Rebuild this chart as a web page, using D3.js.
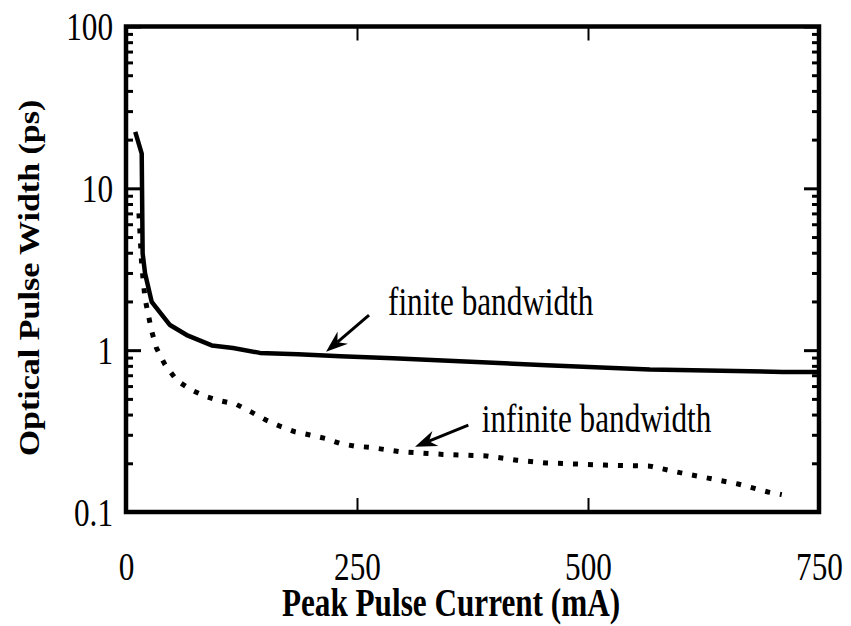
<!DOCTYPE html>
<html>
<head>
<meta charset="utf-8">
<script src="https://cdn.jsdelivr.net/npm/d3@7"></script>
<style>
	body { margin: 0; background: #fff; }
	svg { display: block; }
	text { font-family: "Times New Roman", "Liberation Serif", serif; fill: #000; }
</style>
</head>
<body>
<div id="chart"></div>
<script>
// Values
var finiteCurrent = [10, 17, 18, 20.6, 27.8, 47.6, 65.7, 92.8, 115.8, 145, 186, 232, 289, 361, 455, 567, 711, 750];
var finiteWidth = [22.3, 16.4, 3.97, 2.99, 1.99, 1.43, 1.24, 1.07, 1.03, 0.962, 0.945, 0.918, 0.892, 0.855, 0.808, 0.76, 0.734, 0.734];

var infiniteCurrent = [14, 17, 20.6, 27.8, 33, 42.2, 55.5, 71.1, 87.3, 103.6, 119, 135.8, 151.5, 166.7, 182.9, 199.1, 215.4, 231.6, 247.8, 264, 295.7, 342.8, 390.4, 422.9, 454.6, 518.4, 567.1, 599.6, 629.9, 662.4, 694.8, 709.7];
var infiniteWidth = [7.0, 3.35, 2.08, 1.31, 1.03, 0.813, 0.646, 0.566, 0.515, 0.484, 0.464, 0.414, 0.37, 0.339, 0.313, 0.299, 0.285, 0.265, 0.255, 0.251, 0.236, 0.227, 0.222, 0.209, 0.201, 0.195, 0.192, 0.175, 0.162, 0.149, 0.133, 0.128];

var xTicks = [0, 250, 500, 750];
var yTicks = [0.1, 1, 10, 100];
var yTickLabels = ['0.1', '1', '10', '100'];

var labels = ['finite bandwidth', 'infinite bandwidth'];
// arrow tail, arrow tip, label anchor (data units)
var arrowFrom = [[263, 1.645], [370.5, 0.344]];
var arrowTo = [[216.5, 0.976], [312.8, 0.253]];
var labelAt = [[283.6, 1.645], [385, 0.312]];

var W = 851, H = 626;
var pLeft = 126, pRight = 819, pTop = 26.5, pBottom = 512;
var squeeze = 0.78;
var serif = '"Times New Roman", "Liberation Serif", serif';

var svg = d3.select('#chart').append('svg')
	.attr('width', W)
	.attr('height', H);

var x = d3.scaleLinear().domain([0, 750]).range([pLeft, pRight]);
var y = d3.scaleLog().domain([0.1, 100]).range([pBottom, pTop]);

// minor decade ticks
var yMinor = [];
yTicks.slice(0, 3).forEach(function (d) {
	for (var m = 2; m <= 9; m++) yMinor.push(d * m);
});

function styleAxis(g, w) {
	g.select('.domain').remove();
	g.selectAll('line').attr('stroke', '#000').attr('stroke-width', w);
}

// left axis: majors with labels, then minors
var gLeft = svg.append('g')
	.attr('transform', 'translate(' + pLeft + ',0)')
	.call(d3.axisLeft(y).tickValues(yTicks).tickSize(-15).tickPadding(0)
		.tickFormat(function (d, i) { return yTickLabels[i]; }));
styleAxis(gLeft, 3);
gLeft.selectAll('text')
	.attr('x', null).attr('dy', null)
	.attr('font-size', 40)
	.attr('font-family', serif)
	.attr('text-anchor', 'end')
	.attr('transform', 'translate(-13,13) scale(' + squeeze + ',1)');

svg.append('g')
	.attr('transform', 'translate(' + pLeft + ',0)')
	.call(d3.axisLeft(y).tickValues(yMinor).tickSize(-7).tickFormat(''))
	.call(styleAxis, 3);

// right axis mirrors the left one
svg.append('g')
	.attr('transform', 'translate(' + pRight + ',0)')
	.call(d3.axisRight(y).tickValues(yTicks).tickSize(-15).tickFormat(''))
	.call(styleAxis, 3);
svg.append('g')
	.attr('transform', 'translate(' + pRight + ',0)')
	.call(d3.axisRight(y).tickValues(yMinor).tickSize(-7).tickFormat(''))
	.call(styleAxis, 3);

// bottom + top axis
var gBottom = svg.append('g')
	.attr('transform', 'translate(0,' + pBottom + ')')
	.call(d3.axisBottom(x).tickValues(xTicks).tickSize(-14).tickFormat(d3.format('d')));
styleAxis(gBottom, 2);
gBottom.selectAll('text')
	.attr('y', null).attr('dy', null)
	.attr('font-size', 40)
	.attr('font-family', serif)
	.attr('text-anchor', 'middle')
	.attr('transform', 'translate(0,68) scale(' + squeeze + ',1)');

svg.append('g')
	.attr('transform', 'translate(0,' + pTop + ')')
	.call(d3.axisTop(x).tickValues(xTicks).tickSize(-14).tickFormat(''))
	.call(styleAxis, 2);

// frame
svg.append('rect')
	.attr('x', pLeft).attr('y', pTop)
	.attr('width', pRight - pLeft).attr('height', pBottom - pTop)
	.attr('fill', 'none')
	.attr('stroke', '#000')
	.attr('stroke-width', 4.5);

// curves
var line = d3.line()
	.x(function (d) { return x(d[0]); })
	.y(function (d) { return y(d[1]); });

svg.append('path')
	.datum(d3.zip(infiniteCurrent, infiniteWidth))
	.attr('d', line)
	.attr('fill', 'none')
	.attr('stroke', '#000')
	.attr('stroke-width', 5)
	.attr('stroke-dasharray', '5,10');

svg.append('path')
	.datum(d3.zip(finiteCurrent, finiteWidth))
	.attr('d', line)
	.attr('fill', 'none')
	.attr('stroke', '#000')
	.attr('stroke-width', 4.5)
	.attr('stroke-linejoin', 'round');

// annotations
labels.forEach(function (txt, i) {
	var x0 = x(arrowFrom[i][0]), y0 = y(arrowFrom[i][1]);
	var x1 = x(arrowTo[i][0]), y1 = y(arrowTo[i][1]);
	var len = Math.hypot(x1 - x0, y1 - y0);
	var ux = (x1 - x0) / len, uy = (y1 - y0) / len;
	var px = -uy, py = ux;
	var hl = 22, hw = 8, notch = 15;

	svg.append('line')
		.attr('x1', x0).attr('y1', y0)
		.attr('x2', x1 - ux * notch).attr('y2', y1 - uy * notch)
		.attr('stroke', '#000')
		.attr('stroke-width', 3);

	var pts = [
		[x1, y1],
		[x1 - ux * hl + px * hw, y1 - uy * hl + py * hw],
		[x1 - ux * notch, y1 - uy * notch],
		[x1 - ux * hl - px * hw, y1 - uy * hl - py * hw]
	];
	svg.append('polygon')
		.attr('points', pts.map(function (p) { return p.join(','); }).join(' '))
		.attr('fill', '#000');

	svg.append('text')
		.attr('transform', 'translate(' + x(labelAt[i][0]) + ',' + y(labelAt[i][1]) + ') scale(' + squeeze + ',1)')
		.attr('font-size', 40)
		.text(txt);
});

// axis titles
svg.append('text')
	.attr('transform', 'translate(451,616) scale(' + squeeze + ',1)')
	.attr('text-anchor', 'middle')
	.attr('font-size', 40)
	.attr('font-weight', 'bold')
	.text('Peak Pulse Current (mA)');

svg.append('text')
	.attr('transform', 'translate(39,278) rotate(-90) scale(1,0.88)')
	.attr('text-anchor', 'middle')
	.attr('font-size', 34)
	.attr('font-weight', 'bold')
	.text('Optical Pulse Width (ps)');
</script>
</body>
</html>
